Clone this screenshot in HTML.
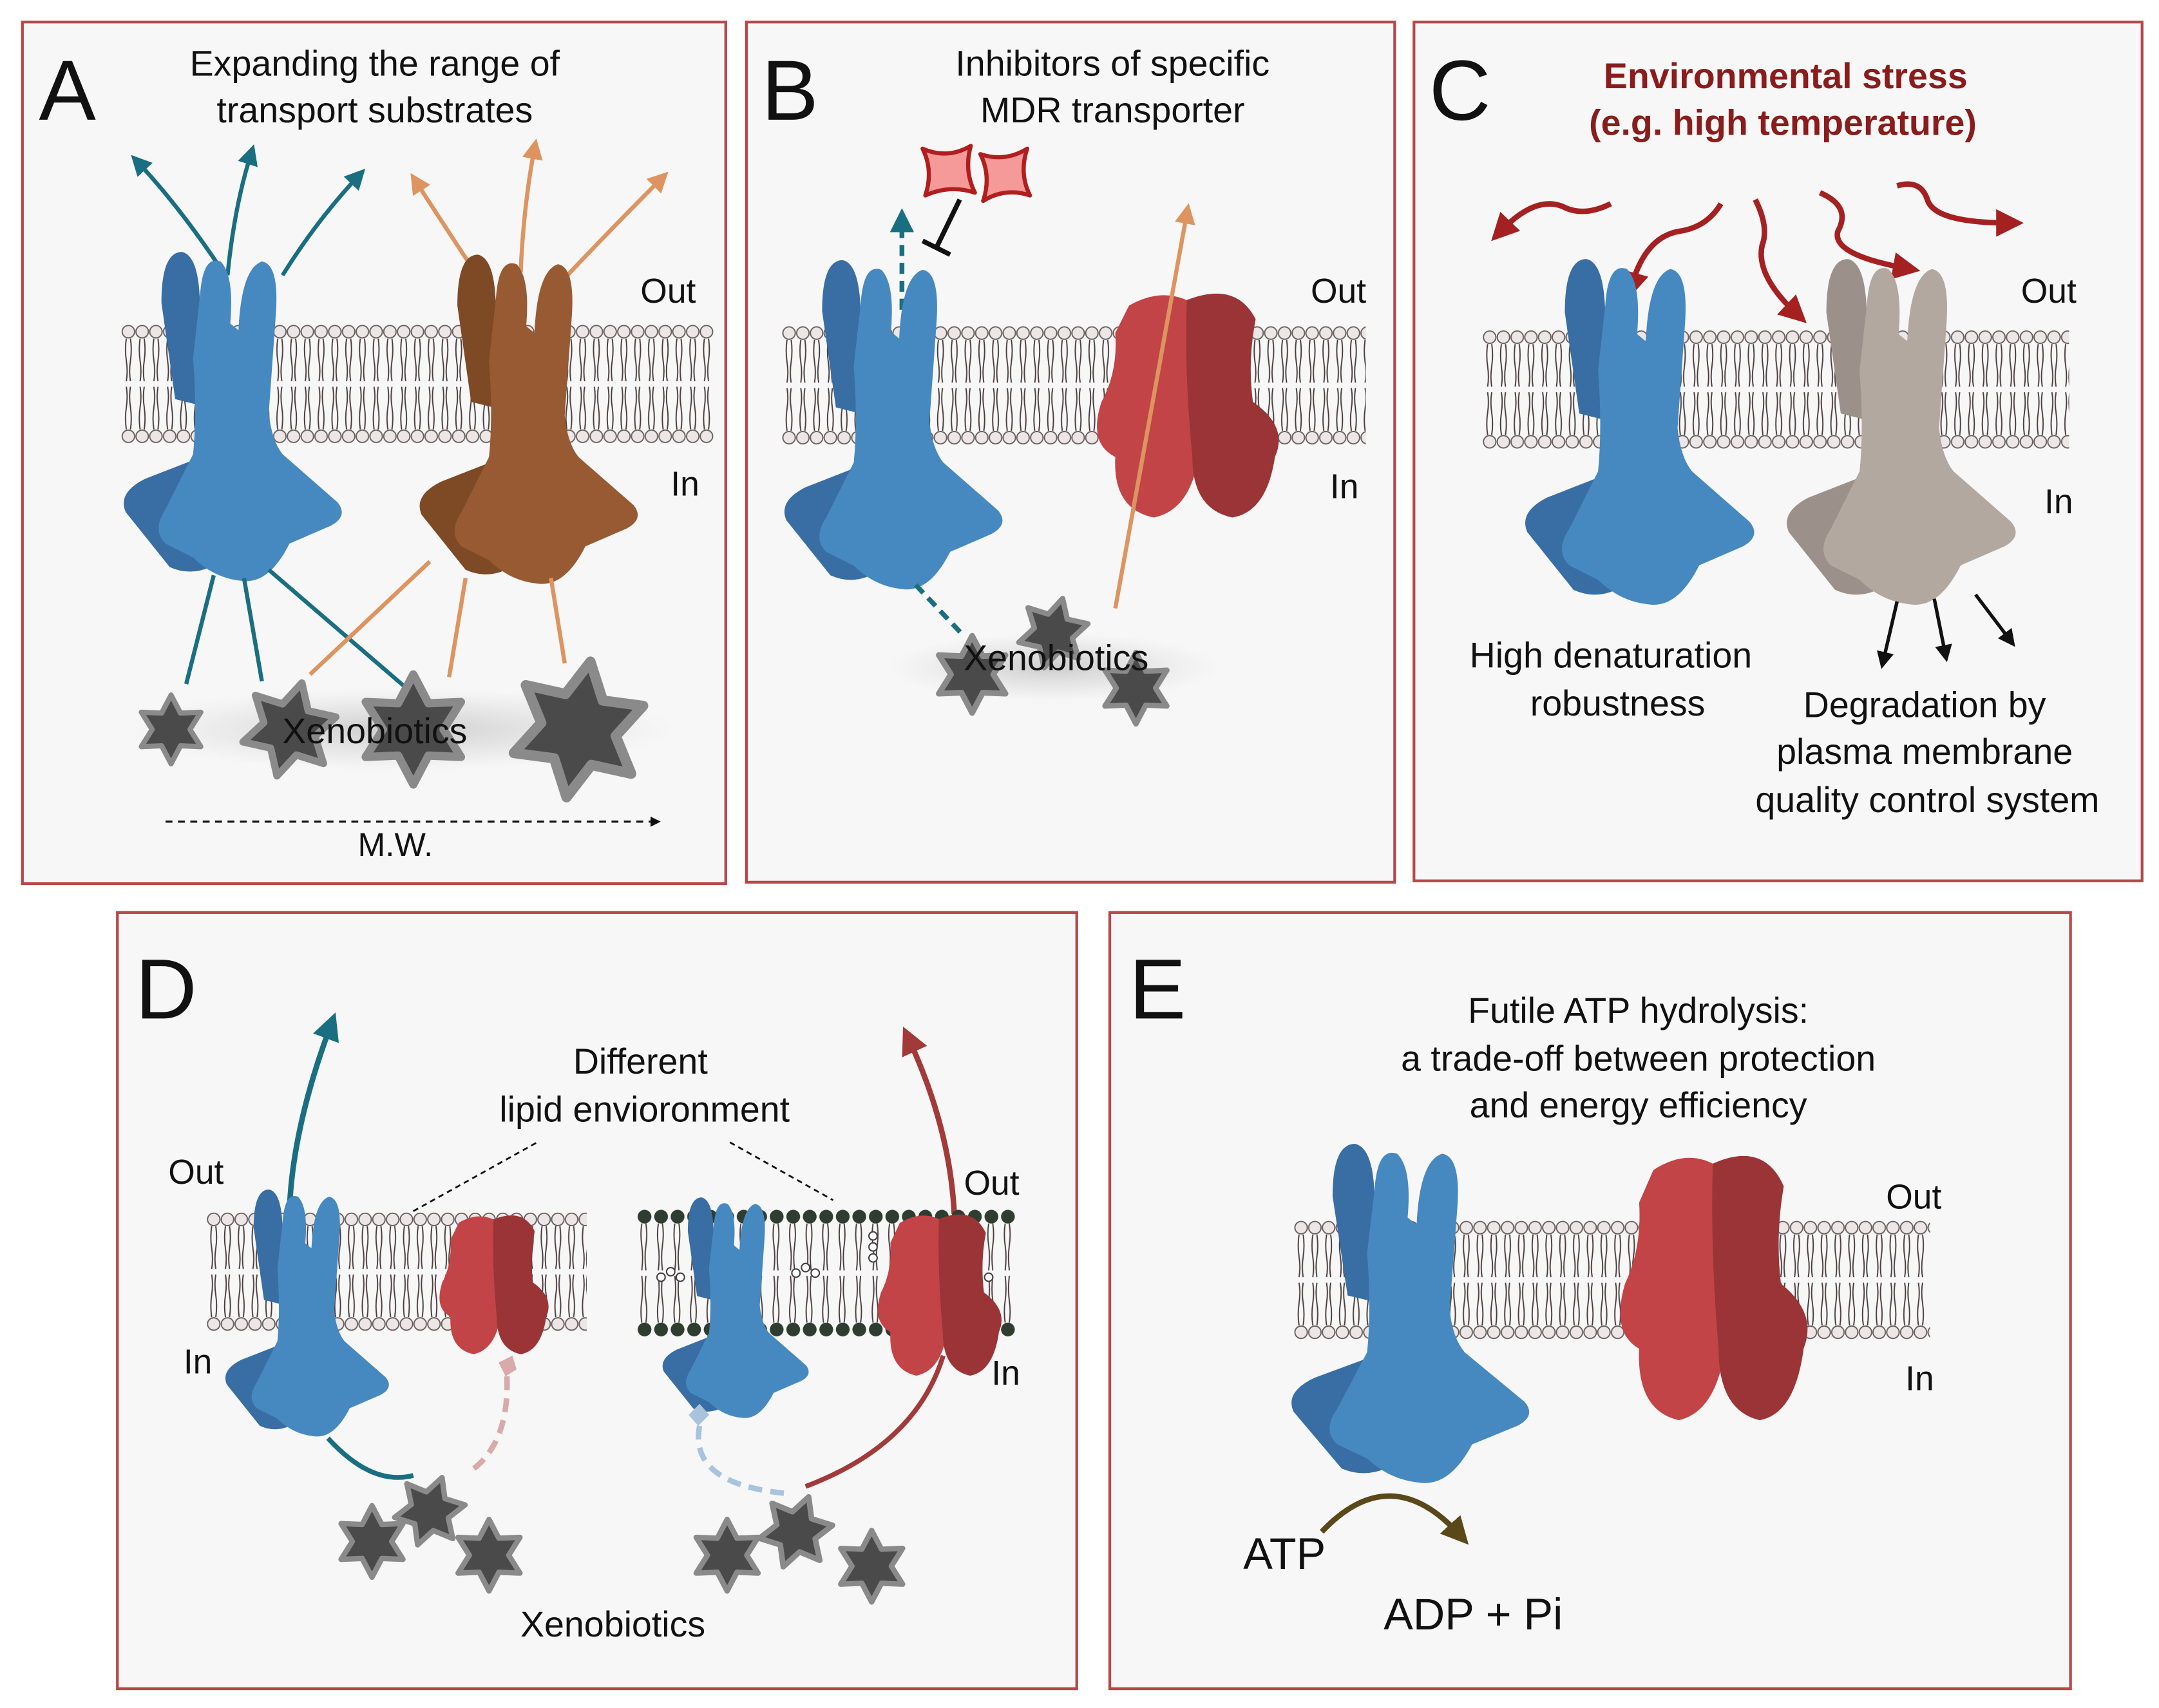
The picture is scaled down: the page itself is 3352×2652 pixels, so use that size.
<!DOCTYPE html>
<html><head><meta charset="utf-8">
<style>
html,body{margin:0;padding:0;background:#fff;}
svg{display:block;}
text{font-family:"Liberation Sans",sans-serif;fill:#111;}
</style></head>
<body>
<svg width="3352" height="2652" viewBox="0 0 1568 1241" xmlns="http://www.w3.org/2000/svg">
<defs>
<pattern id="mem" patternUnits="userSpaceOnUse" width="10" height="88">
 <path d="M3.5,11 q-1.2,8 0,16 q1.2,8 0,15 M6.5,11 q1.2,8 0,16 q-1.2,8 0,15 M3.5,77 q-1.2,-8 0,-16 q1.2,-8 0,-15 M6.5,77 q1.2,-8 0,-16 q-1.2,-8 0,-15" stroke="#4a3c3c" stroke-width="0.9" fill="none"/>
 <circle cx="5" cy="6" r="4.5" fill="#ece6e6" stroke="#6a5e5e" stroke-width="0.9"/>
 <circle cx="5" cy="82" r="4.5" fill="#ece6e6" stroke="#6a5e5e" stroke-width="0.9"/>
</pattern>
<pattern id="memD" patternUnits="userSpaceOnUse" width="12" height="94">
 <path d="M4,11 q-1.2,8 0,16 q1.2,8 0,18 M7,11 q1.2,8 0,16 q-1.2,8 0,18 M4,83 q-1.2,-8 0,-16 q1.2,-8 0,-18 M7,83 q1.2,-8 0,-16 q-1.2,-8 0,-18" stroke="#4a3c3c" stroke-width="0.9" fill="none"/>
 <circle cx="6" cy="6" r="5" fill="#2e3d30"/>
 <circle cx="6" cy="88" r="5" fill="#2e3d30"/>
</pattern>
<g id="backP">
 <path d="M32,40 Q32,3 47,3 Q60,6 60,45 L66,150 L20,168 Q0,178 6,192 L38,232 Q60,242 82,222 L82,120 L42,110 Z"/>
</g>
<path id="frontP" d="M60,35 Q62,5 75,10 Q85,20 82,55 L88,60 Q90,15 105,10 Q118,12 115,50 L110,120 Q112,140 120,150 L160,185 Q168,195 155,202 L125,215 Q110,245 90,242 Q70,240 55,225 L35,215 Q25,205 35,190 L55,150 Q58,120 55,80 Z"/>
<g id="blue"><use href="#backP" fill="#386ea3"/><use href="#frontP" fill="#4689c0"/></g>
<g id="brown"><use href="#backP" fill="#7d4a25"/><use href="#frontP" fill="#985a32"/></g>
<g id="gray"><use href="#backP" fill="#9c918a"/><use href="#frontP" fill="#b3a8a0"/></g>
<g id="red">
 <path d="M30,12 Q58,-4 82,14 L82,110 Q78,160 48,166 Q18,160 20,122 Q0,112 10,82 Q22,60 20,32 Z" fill="#c24446"/>
 <path d="M72,8 Q108,-6 122,22 Q116,52 120,82 Q146,100 136,122 Q130,162 105,166 Q76,160 76,122 Q70,60 72,8 Z" fill="#9b3436"/>
</g>
<g id="star">
 <polygon points="0,-20 5.5,-9.5 17.3,-10 11,0 17.3,10 5.5,9.5 0,20 -5.5,9.5 -17.3,10 -11,0 -17.3,-10 -5.5,-9.5" fill="#4a4a4a" stroke="#8a8a8a" stroke-width="3" stroke-linejoin="round"/>
</g>
<marker id="aT" viewBox="0 0 10 10" refX="5" refY="5" markerWidth="5" markerHeight="5" orient="auto"><path d="M0,0 L10,5 L0,10 Z" fill="#1a6e82"/></marker>
<marker id="aO" viewBox="0 0 10 10" refX="5" refY="5" markerWidth="5" markerHeight="5" orient="auto"><path d="M0,0 L10,5 L0,10 Z" fill="#dd9460"/></marker>
<marker id="aR" viewBox="0 0 10 10" refX="5" refY="5" markerWidth="5" markerHeight="5" orient="auto"><path d="M0,0 L10,5 L0,10 Z" fill="#a52020"/></marker>
<marker id="aDR" viewBox="0 0 10 10" refX="5" refY="5" markerWidth="5" markerHeight="5" orient="auto"><path d="M0,0 L10,5 L0,10 Z" fill="#a33a3a"/></marker>
<marker id="aK" viewBox="0 0 10 10" refX="5" refY="5" markerWidth="5" markerHeight="5" orient="auto"><path d="M0,0 L10,5 L0,10 Z" fill="#111"/></marker>
<marker id="aB" viewBox="0 0 10 10" refX="5" refY="5" markerWidth="5" markerHeight="5" orient="auto"><path d="M0,0 L10,5 L0,10 Z" fill="#5a4818"/></marker>
<radialGradient id="sh"><stop offset="0" stop-color="#bbb" stop-opacity="0.7"/><stop offset="1" stop-color="#ccc" stop-opacity="0"/></radialGradient>
</defs>

<rect width="1568" height="1241" fill="#fff"/>
<g fill="#f7f7f7" stroke="#b5484a" stroke-width="2">
<rect x="16" y="16" width="511" height="626"/>
<rect x="542" y="16" width="471" height="625"/>
<rect x="1027" y="16" width="529" height="624"/>
<rect x="85" y="663" width="697" height="564"/>
<rect x="806" y="663" width="698" height="564"/>
</g>

<!-- PANEL A -->
<text x="28" y="87" font-size="62">A</text>
<text x="272" y="55" font-size="26" text-anchor="middle">Expanding the range of</text>
<text x="272" y="89" font-size="26" text-anchor="middle">transport substrates</text>
<g stroke="#1a6e82" stroke-width="3" fill="none" marker-end="url(#aT)">
<path d="M160,195 Q130,150 100,118"/><path d="M165,200 Q170,150 182,112"/><path d="M205,200 Q230,160 260,128"/>
</g>
<g stroke="#dd9460" stroke-width="3" fill="none" marker-end="url(#aO)">
<path d="M345,198 Q320,160 302,132"/><path d="M378,198 Q380,150 388,108"/><path d="M412,200 Q445,165 480,130"/>
</g>
<rect transform="translate(88,235)" width="430" height="88" fill="url(#mem)"/>
<use href="#blue" transform="translate(85,180)"/>
<use href="#brown" transform="translate(300,182)"/>
<g stroke="#1a6e82" stroke-width="3"><line x1="155" y1="418" x2="135" y2="497"/><line x1="177" y1="420" x2="190" y2="495"/><line x1="195" y1="414" x2="295" y2="500"/></g>
<g stroke="#dd9460" stroke-width="3"><line x1="312" y1="408" x2="225" y2="490"/><line x1="338" y1="420" x2="326" y2="492"/><line x1="400" y1="420" x2="410" y2="482"/></g>
<ellipse cx="290" cy="530" rx="200" ry="30" fill="url(#sh)"/>
<use href="#star" transform="translate(124,530) scale(1.25)"/>
<use href="#star" transform="translate(210,530) scale(1.75) rotate(15)"/>
<use href="#star" transform="translate(300,530) scale(2)"/>
<use href="#star" transform="translate(420,530) scale(2.5) rotate(10)"/>
<text x="272" y="540" font-size="26" text-anchor="middle">Xenobiotics</text>
<line x1="120" y1="597" x2="476" y2="597" stroke="#111" stroke-width="1.5" stroke-dasharray="5,4" marker-end="url(#aK)"/>
<text x="287" y="622" font-size="24" text-anchor="middle">M.W.</text>
<text x="465" y="220" font-size="25">Out</text>
<text x="487" y="360" font-size="25">In</text>

<!-- PANEL B -->
<text x="553" y="87" font-size="62">B</text>
<text x="808" y="55" font-size="26" text-anchor="middle">Inhibitors of specific</text>
<text x="808" y="89" font-size="26" text-anchor="middle">MDR transporter</text>
<g fill="#f59999" stroke="#b01e1e" stroke-width="3" stroke-linejoin="round">
<path d="M670,108 Q688,116 705,106 Q700,124 708,140 Q690,134 672,142 Q678,124 670,108 Z"/>
<path d="M712,112 Q730,118 746,108 Q740,126 748,142 Q730,136 714,146 Q720,128 712,112 Z"/>
</g>
<line x1="655" y1="225" x2="655" y2="160" stroke="#1a6e82" stroke-width="3.5" stroke-dasharray="8,5" marker-end="url(#aT)"/>
<line x1="697" y1="145" x2="680" y2="180" stroke="#111" stroke-width="3.5"/>
<line x1="670" y1="175" x2="690" y2="185" stroke="#111" stroke-width="3.5"/>
<rect transform="translate(568,236)" width="424" height="88" fill="url(#mem)"/>
<use href="#blue" transform="translate(565,186)"/>
<use href="#red" transform="translate(790,210)"/>
<path d="M810,442 L862,155" stroke="#dd9460" stroke-width="3" marker-end="url(#aO)"/>
<line x1="665" y1="425" x2="698" y2="460" stroke="#1a6e82" stroke-width="3.5" stroke-dasharray="8,5"/>
<ellipse cx="765" cy="485" rx="120" ry="25" fill="url(#sh)"/>
<use href="#star" transform="translate(706,490) scale(1.4)"/>
<use href="#star" transform="translate(765,460) scale(1.3) rotate(15)"/>
<use href="#star" transform="translate(825,500) scale(1.3)"/>
<text x="767" y="487" font-size="26" text-anchor="middle">Xenobiotics</text>
<text x="952" y="220" font-size="25">Out</text>
<text x="966" y="362" font-size="25">In</text>

<!-- PANEL C -->
<text x="1038" y="87" font-size="62">C</text>
<text x="1297" y="64" font-size="26" font-weight="bold" text-anchor="middle" style="fill:#8a1c1c">Environmental stress</text>
<text x="1295" y="98" font-size="26" font-weight="bold" text-anchor="middle" style="fill:#8a1c1c">(e.g. high temperature)</text>
<g stroke="#a52020" stroke-width="4" fill="none" marker-end="url(#aR)">
<path d="M1170,148 Q1150,158 1135,150 Q1115,142 1090,168"/>
<path d="M1250,148 Q1240,165 1220,168 Q1195,172 1185,208"/>
<path d="M1275,145 Q1285,165 1280,178 Q1275,200 1305,228"/>
<path d="M1322,140 Q1345,150 1335,168 Q1330,185 1385,195"/>
<path d="M1378,135 Q1395,130 1400,145 Q1405,162 1460,162"/>
</g>
<rect transform="translate(1077,239)" width="426" height="88" fill="url(#mem)"/>
<use href="#blue" transform="translate(1103,185) scale(1.05)"/>
<use href="#gray" transform="translate(1293,185) scale(1.05)"/>
<g stroke="#111" stroke-width="2.5" marker-end="url(#aK)">
<line x1="1378" y1="437" x2="1368" y2="480"/><line x1="1405" y1="435" x2="1413" y2="475"/><line x1="1435" y1="432" x2="1460" y2="465"/>
</g>
<text x="1170" y="485" font-size="26" text-anchor="middle">High denaturation</text>
<text x="1175" y="520" font-size="26" text-anchor="middle">robustness</text>
<text x="1398" y="521" font-size="26" text-anchor="middle">Degradation by</text>
<text x="1398" y="555" font-size="26" text-anchor="middle">plasma membrane</text>
<text x="1400" y="590" font-size="26" text-anchor="middle">quality control system</text>
<text x="1468" y="220" font-size="25">Out</text>
<text x="1485" y="373" font-size="25">In</text>

<!-- PANEL D -->
<text x="98" y="740" font-size="62">D</text>
<text x="465" y="780" font-size="26" text-anchor="middle">Different</text>
<text x="468" y="815" font-size="26" text-anchor="middle">lipid envioronment</text>
<line x1="300" y1="880" x2="390" y2="830" stroke="#111" stroke-width="1.3" stroke-dasharray="4,3"/>
<line x1="530" y1="830" x2="605" y2="872" stroke="#111" stroke-width="1.3" stroke-dasharray="4,3"/>
<path d="M210,880 Q212,820 240,745" stroke="#1a6e82" stroke-width="4" fill="none" marker-end="url(#aT)"/>
<path d="M693,882 Q690,820 660,755" stroke="#a33a3a" stroke-width="4" fill="none" marker-end="url(#aDR)"/>
<rect transform="translate(150,880)" width="276" height="88" fill="url(#mem)"/>
<rect transform="translate(462,878)" width="276" height="94" fill="url(#memD)"/>
<g stroke="#444" stroke-width="1" fill="#fff">
<circle cx="480" cy="928" r="3"/><circle cx="487" cy="924" r="3"/><circle cx="494" cy="928" r="3"/>
<circle cx="578" cy="925" r="3"/><circle cx="585" cy="921" r="3"/><circle cx="592" cy="925" r="3"/>
<circle cx="634" cy="898" r="3"/><circle cx="634" cy="906" r="3"/><circle cx="634" cy="914" r="3"/>
<circle cx="718" cy="928" r="3"/>
</g>
<use href="#blue" transform="translate(160,862) scale(0.75)"/>
<use href="#red" transform="translate(315,881) scale(0.6,0.62)"/>
<use href="#blue" transform="translate(478,868) scale(0.67)"/>
<use href="#red" transform="translate(633,880) scale(0.68,0.72)"/>
<path d="M238,1045 Q270,1080 300,1072" stroke="#1a6e82" stroke-width="3.5" fill="none"/>
<path d="M362,990 L372,985 L375,995 L367,1000 Z" fill="#d9aaaa"/>
<path d="M368,1000 Q370,1050 340,1070" stroke="#d9aaaa" stroke-width="4" fill="none" stroke-dasharray="10,6"/>
<path d="M500,1028 L508,1020 L515,1028 L507,1036 Z" fill="#a8c4dd"/>
<path d="M508,1036 Q500,1078 570,1085" stroke="#a8c4dd" stroke-width="4" fill="none" stroke-dasharray="10,6"/>
<path d="M685,985 Q665,1050 585,1080" stroke="#a33a3a" stroke-width="3.5" fill="none"/>
<use href="#star" transform="translate(270,1120) scale(1.3)"/>
<use href="#star" transform="translate(312,1098) scale(1.3) rotate(20)"/>
<use href="#star" transform="translate(355,1130) scale(1.3)"/>
<use href="#star" transform="translate(528,1130) scale(1.3)"/>
<use href="#star" transform="translate(578,1113) scale(1.35) rotate(20)"/>
<use href="#star" transform="translate(633,1138) scale(1.3)"/>
<text x="445" y="1189" font-size="26" text-anchor="middle">Xenobiotics</text>
<text x="122" y="860" font-size="25">Out</text>
<text x="133" y="998" font-size="25">In</text>
<text x="700" y="868" font-size="25">Out</text>
<text x="720" y="1006" font-size="25">In</text>

<!-- PANEL E -->
<text x="820" y="740" font-size="62">E</text>
<text x="1190" y="743" font-size="26" text-anchor="middle">Futile ATP hydrolysis:</text>
<text x="1190" y="778" font-size="26" text-anchor="middle">a trade-off between protection</text>
<text x="1190" y="812" font-size="26" text-anchor="middle">and energy efficiency</text>
<rect transform="translate(940,886)" width="462" height="88" fill="url(#mem)"/>
<use href="#blue" transform="translate(933,828) scale(1.09,1.03)"/>
<use href="#red" transform="translate(1170,836) scale(1.03,1.18)"/>
<path d="M960,1113 Q1010,1060 1060,1115" stroke="#5a4818" stroke-width="4" fill="none" marker-end="url(#aB)"/>
<text x="903" y="1140" font-size="32">ATP</text>
<text x="1005" y="1184" font-size="32">ADP + Pi</text>
<text x="1370" y="878" font-size="25">Out</text>
<text x="1384" y="1010" font-size="25">In</text>
</svg>
</body></html>
